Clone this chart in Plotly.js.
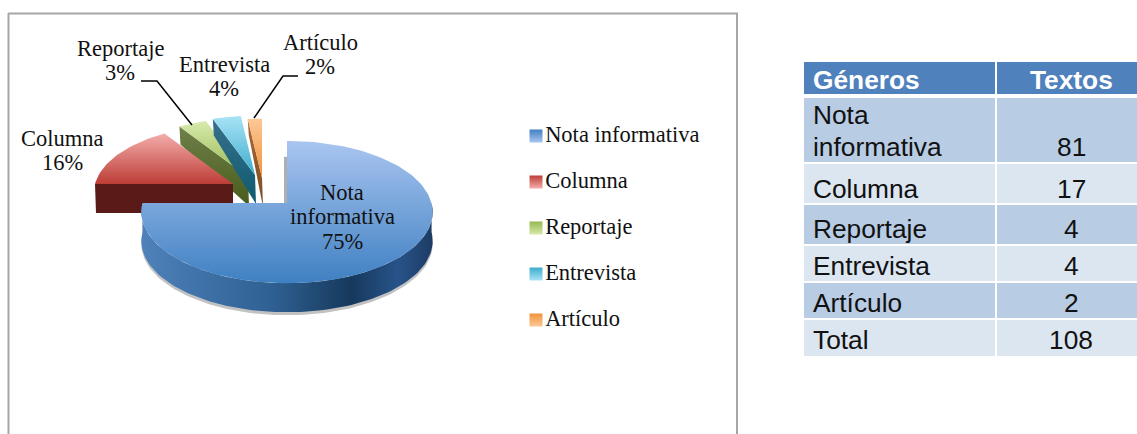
<!DOCTYPE html>
<html><head><meta charset="utf-8">
<script src="https://cdn.plot.ly/plotly-3.0.1.min.js"></script>
<style>html,body{margin:0;padding:0;background:#fff;overflow:hidden}#c{width:1137px;height:434px;overflow:hidden}</style>
</head><body><div id="c"></div>
<script>
// ---- data ----
const categories = ["Nota informativa","Columna","Reportaje","Entrevista","Artículo"];
const counts = [81,17,4,4,2];
const shownPercent = ["75%","16%","3%","4%","2%"];
const total = 108;
const tableHeader = ["Géneros","Textos"];
const tableGenres = ["Nota<br>informativa","Columna","Reportaje","Entrevista","Artículo","Total"];

// ---- styles / geometry (pixels on hidden 1:1 axes) ----
const topColors = [["#a9c5f0","#3f80c2"],["#f4adab","#bd3d36"],["#d8eaad","#94b84f"],["#a8e3f6","#3eacce"],["#fcc896","#f1923a"]];
const wallColors = [null,["#5a1a18","#5a1a18"],["#6f8049","#485c1c"],["#38708c","#0e5a6e"],["#a96c3a","#7a4a20"]];
const notaWall = [[0,"#4f82ba"],[0.2,"#3f72a8"],[0.45,"#2f6092"],[0.72,"#16395c"],[0.88,"#28538a"],[1,"#1c3c64"]];
const explode = [[-1,0],[-55,-19],[-40,-26],[-33,-28],[-26,-25]];
const CX=288, CY=203, RX=144.5, RY=70, K=0.127, T=29;
const drawOrder=[2,3,4,1,0];

const sum = counts.reduce((a,b)=>a+b,0);
const ends=[]; let acc=0; counts.forEach(c=>{const a0=acc/sum*2*Math.PI; acc+=c; ends.push([a0,acc/sum*2*Math.PI]);});

function pt(a,i){const u=Math.sin(a),v=-Math.cos(a),s=1/(1-K*v),f=i?0.955:1;
  return [CX+explode[i][0]+u*RX*s*f, CY+explode[i][1]+v*RY*s*f, v];}
function depth(v){return v<0?T*(1+0.45*v):T;}
function arc(a0,a1,i){const n=Math.max(4,Math.ceil((a1-a0)/0.03)),o=[];for(let j=0;j<=n;j++)o.push(pt(a0+(a1-a0)*j/n,i));return o;}
function grad(c,type){return {type:type||"vertical",colorscale:[[0,c[1]],[1,c[0]]]};}
function poly(xs,ys,fg,name){return {type:"scatter",mode:"lines",x:xs,y:ys,fill:"toself",line:{width:0},fillgradient:fg,hoverinfo:"skip",showlegend:false,name:name};}
function flat(xs,ys,col){return {type:"scatter",mode:"lines",x:xs,y:ys,fill:"toself",line:{width:0},fillcolor:col,hoverinfo:"skip",showlegend:false};}

const traces=[];
drawOrder.forEach(i=>{
  const [a0,a1]=ends[i], name=categories[i];
  const ax=CX+explode[i][0], ay=CY+explode[i][1];
  const A=arc(a0,a1,i);
  if(i===0){
    const front=arc(Math.PI*0.5,a1,0), back=front.slice().reverse();
    const o=pt(a0,0);
    traces.push(flat([ax,o[0],o[0]-3,ax-3,ax],[ay,o[1]+depth(o[2]),o[1]+depth(o[2]),ay,ay],"rgba(110,110,110,0.55)"));
    traces.push(flat(front.map(p=>p[0]).concat(back.map(p=>p[0])),front.map(p=>p[1]).concat(back.map(p=>p[1]+T+3)),"rgba(120,120,120,0.45)"));
    traces.push(poly(front.map(p=>p[0]).concat(back.map(p=>p[0])),front.map(p=>p[1]).concat(back.map(p=>p[1]+T)),
      {type:"horizontal",colorscale:notaWall},name));
  } else if(i===1){
    const o=pt(a0,i);
    traces.push(poly([ax,o[0],o[0]+1,ax,ax],[ay,o[1],o[1]+T,ay+T,ay],grad(wallColors[i]),name));
  } else {
    const o=pt(a0,i);
    traces.push(poly([o[0],ax,ax+1,o[0]+1,o[0]],[o[1],ay,ay+T,o[1]+depth(o[2]),o[1]],grad(wallColors[i]),name));
  }
  traces.push(poly([ax].concat(A.map(p=>p[0]),[ax]),[ay].concat(A.map(p=>p[1]),[ay]),grad(topColors[i]),name));
});

// legend column
const legendX=536, legendYs=[136,182,228,274,320];
traces.push({type:"scatter",mode:"markers+text",x:categories.map(()=>legendX),y:legendYs,text:categories,
  textposition:"middle right",textfont:{family:"Liberation Serif",size:22.5,color:"#111"},cliponaxis:false,
  marker:{symbol:"square",size:13,color:topColors.map(c=>c[1]),gradient:{type:"vertical",color:topColors.map(c=>c[0])},line:{width:0}},
  hoverinfo:"skip",showlegend:false});

// slice labels, one annotation per line for the tight leading
const labelX=[342,62,120,224,320];
const labelTopY=[192,138,48,64,42];
const labelLeading=24.6;
const labelText=["Nota<br>informativa","Columna","Reportaje","Entrevista","Artículo"];
const annotations=[];
labelText.forEach((t,i)=>{
  (t+"<br>"+shownPercent[i]).split("<br>").forEach((l,j)=>annotations.push({xref:"x",yref:"y",x:labelX[i],y:labelTopY[i]+j*labelLeading,text:l,
    showarrow:false,font:{family:"Liberation Serif",size:22.5,color:"#111"}}));
});

// table, drawn as cells on the same axes
const colEdges=[[804,995],[997,1137]];
const rowEdges=[[62,94],[98,162],[164,203],[205,244],[246,281],[283,318],[320,356]];
const rowFills=["#4f81bd","#b8cce4","#dce6f1","#b8cce4","#dce6f1","#b8cce4","#dce6f1"];
const textYs=[[80],[115,147],[189],[229],[266],[303],[340]];
const tableVals=counts.map(String).concat([String(total)]);
const shapes=[];
rowEdges.forEach((r,ri)=>colEdges.forEach(c=>shapes.push({type:"rect",xref:"x",yref:"y",layer:"below",x0:c[0],x1:c[1],y0:r[0],y1:r[1],fillcolor:rowFills[ri],line:{width:0}})));
function cellText(x,y,t,anchor,bold,col){annotations.push({xref:"x",yref:"y",x:x,y:y,text:bold?"<b>"+t+"</b>":t,showarrow:false,xanchor:anchor,
  font:{family:"Liberation Sans",size:26.3,color:col},borderpad:0});}
const leftX=812, midX=1071;
cellText(leftX,textYs[0][0],tableHeader[0],"left",true,"#fff");
cellText(midX,textYs[0][0],tableHeader[1],"center",true,"#fff");
tableGenres.forEach((g,i)=>{
  const lines=g.split("<br>"), ys=textYs[i+1];
  lines.forEach((l,j)=>cellText(leftX,ys[j],l,"left",false,"#111"));
  cellText(midX,ys[ys.length-1],tableVals[i],"center",false,"#111");
});

shapes.push(
 {type:"line",xref:"x",yref:"y",x0:8.5,y0:13,x1:8.5,y1:440,line:{color:"#a6a6a6",width:2}},
 {type:"line",xref:"x",yref:"y",x0:8,y0:13.5,x1:738,y1:13.5,line:{color:"#a6a6a6",width:2}},
 {type:"line",xref:"x",yref:"y",x0:737,y0:13,x1:737,y1:440,line:{color:"#a6a6a6",width:2}},
 {type:"path",xref:"x",yref:"y",path:"M141,81 L157,81 L192,125",line:{color:"#000",width:1.5}},
 {type:"path",xref:"x",yref:"y",path:"M298,76 L283,76 L254,118",line:{color:"#000",width:1.5}}
);

Plotly.newPlot("c",traces,{
  width:1137,height:434,margin:{l:0,r:0,t:0,b:0},paper_bgcolor:"#fff",plot_bgcolor:"#fff",showlegend:false,
  xaxis:{range:[0,1137],visible:false,fixedrange:true},
  yaxis:{range:[434,0],visible:false,fixedrange:true},
  shapes:shapes,annotations:annotations
},{displayModeBar:false,staticPlot:true});
</script></body></html>
